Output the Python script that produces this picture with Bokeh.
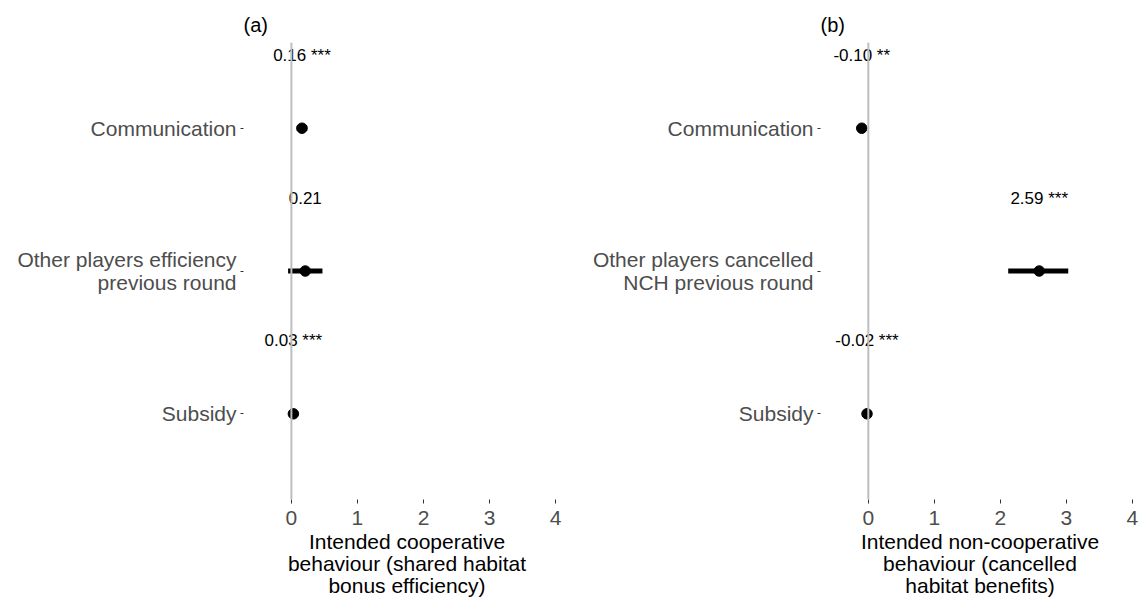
from bokeh.plotting import figure
from bokeh.models import Span, Range1d, FixedTicker, ColumnDataSource
from bokeh.layouts import row
from bokeh.embed import file_html
from bokeh.resources import INLINE
from bokeh.core.properties import value

# ---- data ----
categories_a = ["Communication", "Other players efficiency\nprevious round", "Subsidy"]
categories_b = ["Communication", "Other players cancelled\nNCH previous round", "Subsidy"]

est_a = [0.16, 0.21, 0.03]
low_a = [0.08, -0.05, 0.02]
high_a = [0.24, 0.47, 0.04]
lab_a = ["0.16 ***", "0.21", "0.03 ***"]

est_b = [-0.10, 2.59, -0.02]
low_b = [-0.13, 2.12, -0.03]
high_b = [-0.07, 3.03, -0.01]
lab_b = ["-0.10 **", "2.59 ***", "-0.02 ***"]

x_ticks = [0, 1, 2, 3, 4]
panel_titles = ["(a)", "(b)"]
x_titles = ["Intended cooperative\nbehaviour (shared habitat\nbonus efficiency)",
            "Intended non-cooperative\nbehaviour (cancelled\nhabitat benefits)"]

FONT = "Liberation Sans"


def make_panel(cats, est, low, high, labs, title, xtitle, width, bl, br, x_end):
    n = len(cats)
    ypos = [n - i for i in range(n)]
    src = ColumnDataSource(dict(y=ypos, ylab=[y + 0.51 for y in ypos], est=est,
                                low=low, high=high, lab=labs))
    p = figure(width=width, height=600, x_range=Range1d(-0.725, x_end),
               y_range=Range1d(0.4, n + 0.6), output_backend="svg",
               toolbar_location=None, min_border_left=bl, min_border_right=br,
               min_border_top=42, min_border_bottom=101, title=title)
    p.title.text_font = FONT
    p.title.text_font_size = "20px"
    p.title.text_font_style = "normal"
    p.title.text_color = "black"
    p.title.align = "left"
    p.title.standoff = 13

    p.add_layout(Span(location=0, dimension="height", line_color="#BEBEBE", line_width=2))
    p.segment(x0="low", x1="high", y0="y", y1="y", source=src, line_width=5,
              line_color="black")
    p.scatter(x="est", y="y", source=src, size=10.5, color="black")
    p.text(x="est", y="ylab", text="lab", source=src, text_align="center",
           text_baseline="middle", text_font=value(FONT), text_font_size="17px",
           text_color="black")

    xa = p.xaxis[0]
    xa.ticker = FixedTicker(ticks=x_ticks)
    xa.axis_label = xtitle
    xa.axis_label_text_font = FONT
    xa.axis_label_text_font_size = "21px"
    xa.axis_label_text_font_style = "normal"
    xa.axis_label_text_color = "black"
    xa.axis_label_text_line_height = 0.97
    xa.axis_label_standoff = 2
    xa.major_label_text_font = FONT
    xa.major_label_text_font_size = "21px"
    xa.major_label_text_color = "#4D4D4D"
    xa.major_label_standoff = 7
    xa.major_tick_out = 4
    xa.major_tick_in = 0
    xa.major_tick_line_color = "#333333"
    xa.minor_tick_line_color = None
    xa.axis_line_color = None

    ya = p.yaxis[0]
    ya.ticker = FixedTicker(ticks=ypos)
    ya.major_label_overrides = {y: c for y, c in zip(ypos, cats)}
    ya.major_label_text_font = FONT
    ya.major_label_text_font_size = "21px"
    ya.major_label_text_color = "#4D4D4D"
    ya.major_label_text_line_height = 1.0
    ya.major_label_standoff = 4
    ya.major_tick_out = 3
    ya.major_tick_in = 0
    ya.major_tick_line_color = "#333333"
    ya.minor_tick_line_color = None
    ya.axis_line_color = None

    p.grid.visible = False
    p.outline_line_color = None
    return p


pa = make_panel(categories_a, est_a, low_a, high_a, lab_a, panel_titles[0], x_titles[0],
                580, 243, 10, 4.225)
pb = make_panel(categories_b, est_b, low_b, high_b, lab_b, panel_titles[1], x_titles[1],
                559, 240, 0, 4.11)

layout = row(pa, pb)
open("out.html", "w").write(file_html(layout, INLINE))
